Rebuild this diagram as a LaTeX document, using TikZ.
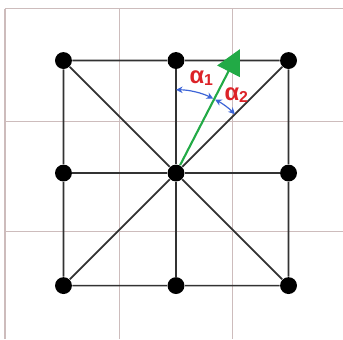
\documentclass[tikz,border=0pt]{standalone}
\usepackage{fontspec}
\newfontfamily\labelfont{Liberation Sans}
\usetikzlibrary{arrows.meta,calc}
\definecolor{gridpink}{RGB}{205,188,188}
\definecolor{arrowgreen}{RGB}{34,170,70}
\definecolor{anglered}{RGB}{220,35,40}
\definecolor{angleblue}{RGB}{60,100,215}
\definecolor{edgegray}{RGB}{50,50,50}

\begin{document}
\begin{tikzpicture}[scale=1.5]
	\tikzstyle{bullet} = [circle, fill, inner sep=0pt, minimum size=6.4pt]
	\tikzstyle{gridline} = [gridpink, line width=0.45pt]
	\tikzstyle{edge} = [edgegray, line width=0.65pt]
	\tikzstyle{vector} = [arrowgreen, line width=0.8pt, -{Triangle[length=9.5pt,width=9.5pt]}]
	\tikzstyle{angle} = [angleblue, line width=0.45pt, {Stealth[length=2.5pt,width=2.5pt]}-{Stealth[length=2.5pt,width=2.5pt]}]
	\tikzstyle{anglelabel} = [anglered, inner sep=0pt, font=\labelfont\bfseries\fontsize{9}{10}\selectfont]
	\useasboundingbox (-1.564,-1.476) rectangle (1.484,1.538);
	\fill[white] (-1.564,-1.476) rectangle (1.484,1.538);
	% background grid
	\foreach \x in {-1.52,-0.5,0.5}
		\draw[gridline] (\x,-1.476) -- (\x,1.46);
	\foreach \y in {1.46,0.46,-0.52}
		\draw[gridline] (-1.52,\y) -- (1.484,\y);
	% the nine points
	\node[bullet] (nw) at (-1,1) {};
	\node[bullet] (n) at (0,1) {};
	\node[bullet] (ne) at (1,1) {};
	\node[bullet] (w) at (-1,0) {};
	\node[bullet] (c) at (0,0) {};
	\node[bullet] (e) at (1,0) {};
	\node[bullet] (sw) at (-1,-1) {};
	\node[bullet] (s) at (0,-1) {};
	\node[bullet] (se) at (1,-1) {};
	\draw[edge] (nw) -- (n) -- (ne) -- (e) -- (se) -- (s) -- (sw) -- (w) -- (nw);
	\draw[edge] (n) -- (c) -- (s);
	\draw[edge] (w) -- (c) -- (e);
	\draw[edge] (nw) -- (c) -- (se);
	\draw[edge] (ne) -- (c) -- (sw);
	% vector and angles
	\coordinate (tip) at (62.7:1.24);
	\draw[vector] (c) -- (tip);
	\draw[angle] ($(c)+(90:0.74)$) arc[start angle=90, end angle=63.5, radius=0.74];
	\draw[angle] ($(c)+(62:0.74)$) arc[start angle=62, end angle=45, radius=0.74];
	\node[anglelabel] (a1) at (0.231,0.844) {α\textsubscript{1}};
	\node[anglelabel] (a2) at (0.542,0.693) {α\textsubscript{2}};
\end{tikzpicture}
\end{document}
